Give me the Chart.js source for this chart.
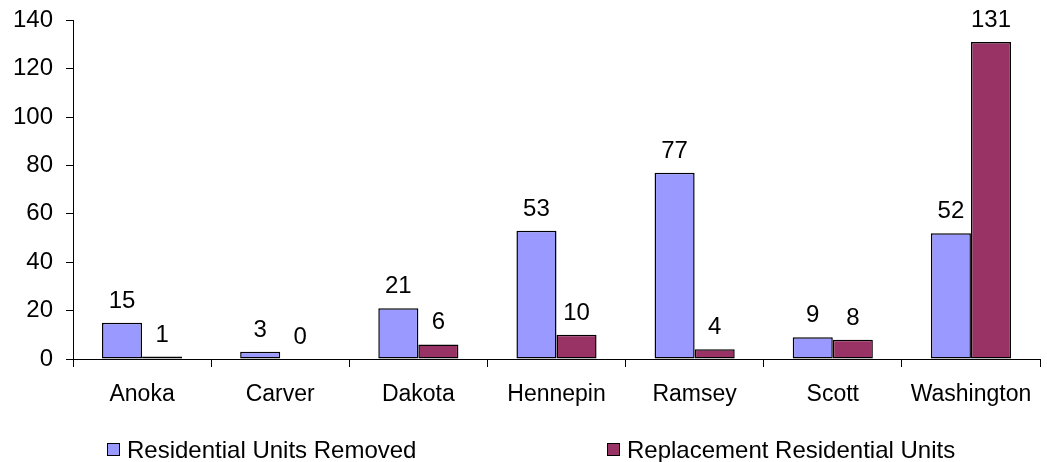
<!DOCTYPE html>
<html>
<head>
<meta charset="utf-8">
<style>
* { margin: 0; padding: 0; }
body { background: #fff; width: 1047px; height: 462px; overflow: hidden; }
.chartBox { width: 1047px; height: 462px; }
</style>
</head>
<body>
<div class="chartBox">
  <canvas id="myChart" width="1047" height="462"></canvas>
</div>
<script src="https://cdn.jsdelivr.net/npm/chart.js"></script>
<script>
// setup
const counties = ['Anoka', 'Carver', 'Dakota', 'Hennepin', 'Ramsey', 'Scott', 'Washington'];
const unitsRemoved = [15, 3, 21, 53, 77, 9, 52];
const replacementUnits = [1, 0, 6, 10, 4, 8, 131];
const yTicks = [0, 20, 40, 60, 80, 100, 120, 140];

const FONT = 'Liberation Sans, Arial, sans-serif';

// value labels above each bar
const barLabels = {
  id: 'barLabels',
  afterDatasetsDraw(chart) {
    const ctx = chart.ctx;
    ctx.save();
    ctx.font = '24px ' + FONT;
    ctx.fillStyle = '#000';
    ctx.textAlign = 'center';
    ctx.textBaseline = 'alphabetic';
    chart.data.datasets.forEach((ds, i) => {
      chart.getDatasetMeta(i).data.forEach((bar, j) => {
        ctx.fillText(ds.data[j], bar.x, bar.y - 15);
      });
    });
    ctx.restore();
  }
};

// legend spread across the bottom like the original
const wideLegend = {
  id: 'wideLegend',
  afterDraw(chart) {
    const ctx = chart.ctx;
    const xs = [107, 607];
    const y = 450;
    ctx.save();
    ctx.font = '24px ' + FONT;
    ctx.textBaseline = 'middle';
    ctx.textAlign = 'left';
    chart.data.datasets.forEach((ds, i) => {
      ctx.fillStyle = ds.backgroundColor;
      ctx.fillRect(xs[i] + 0.5, y - 6.5, 12, 12);
      ctx.strokeStyle = '#000';
      ctx.lineWidth = 1;
      ctx.strokeRect(xs[i] + 0.5, y - 6.5, 12, 12);
      ctx.fillStyle = '#000';
      ctx.fillText(ds.label, xs[i] + 20, y + 1);
    });
    ctx.restore();
  }
};

const data = {
  labels: counties,
  datasets: [{
    label: 'Residential Units Removed',
    data: unitsRemoved,
    backgroundColor: '#9999FF',
    borderColor: '#000',
    borderWidth: 1.5,
    borderSkipped: false,
    inflateAmount: 0
  }, {
    label: 'Replacement Residential Units',
    data: replacementUnits,
    backgroundColor: '#993366',
    borderColor: '#000',
    borderWidth: 1.5,
    borderSkipped: false,
    inflateAmount: 0
  }]
};

const config = {
  type: 'bar',
  data,
  options: {
    responsive: false,
    animation: false,
    categoryPercentage: 0.58,
    barPercentage: 1,
    layout: { padding: { top: 20, right: 7, left: 0, bottom: 53 } },
    plugins: {
      tooltip: { enabled: false },
      legend: { display: false }
    },
    scales: {
      x: {
        grid: { drawOnChartArea: false, offset: true, color: '#000', tickLength: 8, tickColor: '#000' },
        border: { color: '#000' },
        ticks: { font: { size: 23, family: FONT }, color: '#000', padding: 14 },
        afterFit(scale) { scale.height = 50; }
      },
      y: {
        min: 0,
        max: 140,
        afterBuildTicks(scale) { scale.ticks = yTicks.map(v => ({ value: v })); },
        grid: { drawOnChartArea: false, color: '#000', tickLength: 7, tickColor: '#000' },
        border: { color: '#000' },
        ticks: { font: { size: 24, family: FONT, lineHeight: 0.6 }, color: '#000', padding: 13 },
        afterFit(scale) { scale.width = 73; }
      }
    }
  },
  plugins: [barLabels, wideLegend]
};

const myChart = new Chart(document.getElementById('myChart'), config);
</script>
</body>
</html>
